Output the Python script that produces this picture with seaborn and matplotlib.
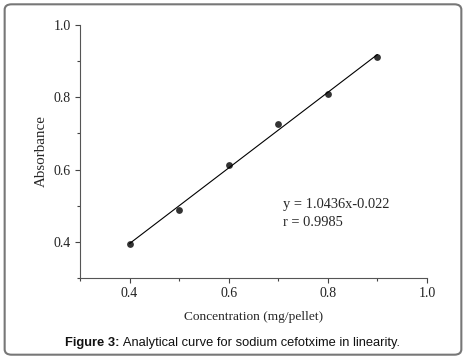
import matplotlib
matplotlib.use("Agg")
import matplotlib.pyplot as plt
from matplotlib.patches import FancyBboxPatch
from matplotlib.ticker import MultipleLocator
import seaborn as sns
import pandas as pd

# calibration data
concentration = [0.4, 0.5, 0.6, 0.7, 0.8, 0.9]
absorbance = [0.394, 0.488, 0.614, 0.725, 0.808, 0.912]
equation_text = "y = 1.0436x-0.022"
r_text = "r = 0.9985"

df = pd.DataFrame({"conc": concentration, "abs": absorbance})

sns.set_style("ticks")
plt.rcParams["font.family"] = ["Liberation Serif", "DejaVu Serif"]

fig = plt.figure(figsize=(4.66, 3.59), dpi=100)
ax = fig.add_axes([0.1717, 0.2256, 0.7446, 0.7048])

sns.regplot(data=df, x="conc", y="abs", ax=ax, ci=None, truncate=True,
            scatter_kws={"s": 24, "color": "black", "zorder": 3, "linewidths": 0},
            line_kws={"color": "black", "linewidth": 0.8})

ax.set_xlim(0.3, 1.0)
ax.set_ylim(0.3, 1.0)
ax.xaxis.set_minor_locator(MultipleLocator(0.1))
ax.yaxis.set_minor_locator(MultipleLocator(0.1))
ax.set_xticks([0.4, 0.6, 0.8, 1.0])
ax.set_yticks([0.4, 0.6, 0.8, 1.0])
ax.tick_params(which="major", length=3.5, width=0.8, color="#444444",
               labelcolor="#222222", labelsize=10, pad=3)
ax.tick_params(which="minor", length=2, width=0.8, color="#444444")
for s in ["top", "right"]:
    ax.spines[s].set_visible(False)
for s in ["left", "bottom"]:
    ax.spines[s].set_color("#555555")
    ax.spines[s].set_linewidth(0.8)

ax.set_xlabel("Concentration (mg/pellet)", fontsize=9.6, labelpad=8)
ax.set_ylabel("Absorbance", fontsize=10.8, labelpad=4)

ax.text(0.71, 0.503, equation_text, fontsize=10.4, va="center", ha="left")
ax.text(0.71, 0.453, r_text, fontsize=10.4, va="center", ha="left")

# caption: bold prefix followed by regular text
bold = fig.text(0.1395, 0.045, "Figure 3:", fontsize=9.3, fontweight="bold",
                family="Liberation Sans", ha="left", va="center", color="#111111")
fig.canvas.draw()
bb = bold.get_window_extent().transformed(fig.transFigure.inverted())
fig.text(bb.x1, 0.045, " Analytical curve for sodium cefotxime in linearity.",
         fontsize=9.3, family="Liberation Sans", ha="left", va="center", color="#111111")

border = FancyBboxPatch((0.01, 0.012), 0.98, 0.976, transform=fig.transFigure,
                        boxstyle="round,pad=0,rounding_size=0.015",
                        fill=False, edgecolor="#777777", linewidth=1.5)
fig.patches.append(border)

fig.savefig("out.png", dpi=100)
